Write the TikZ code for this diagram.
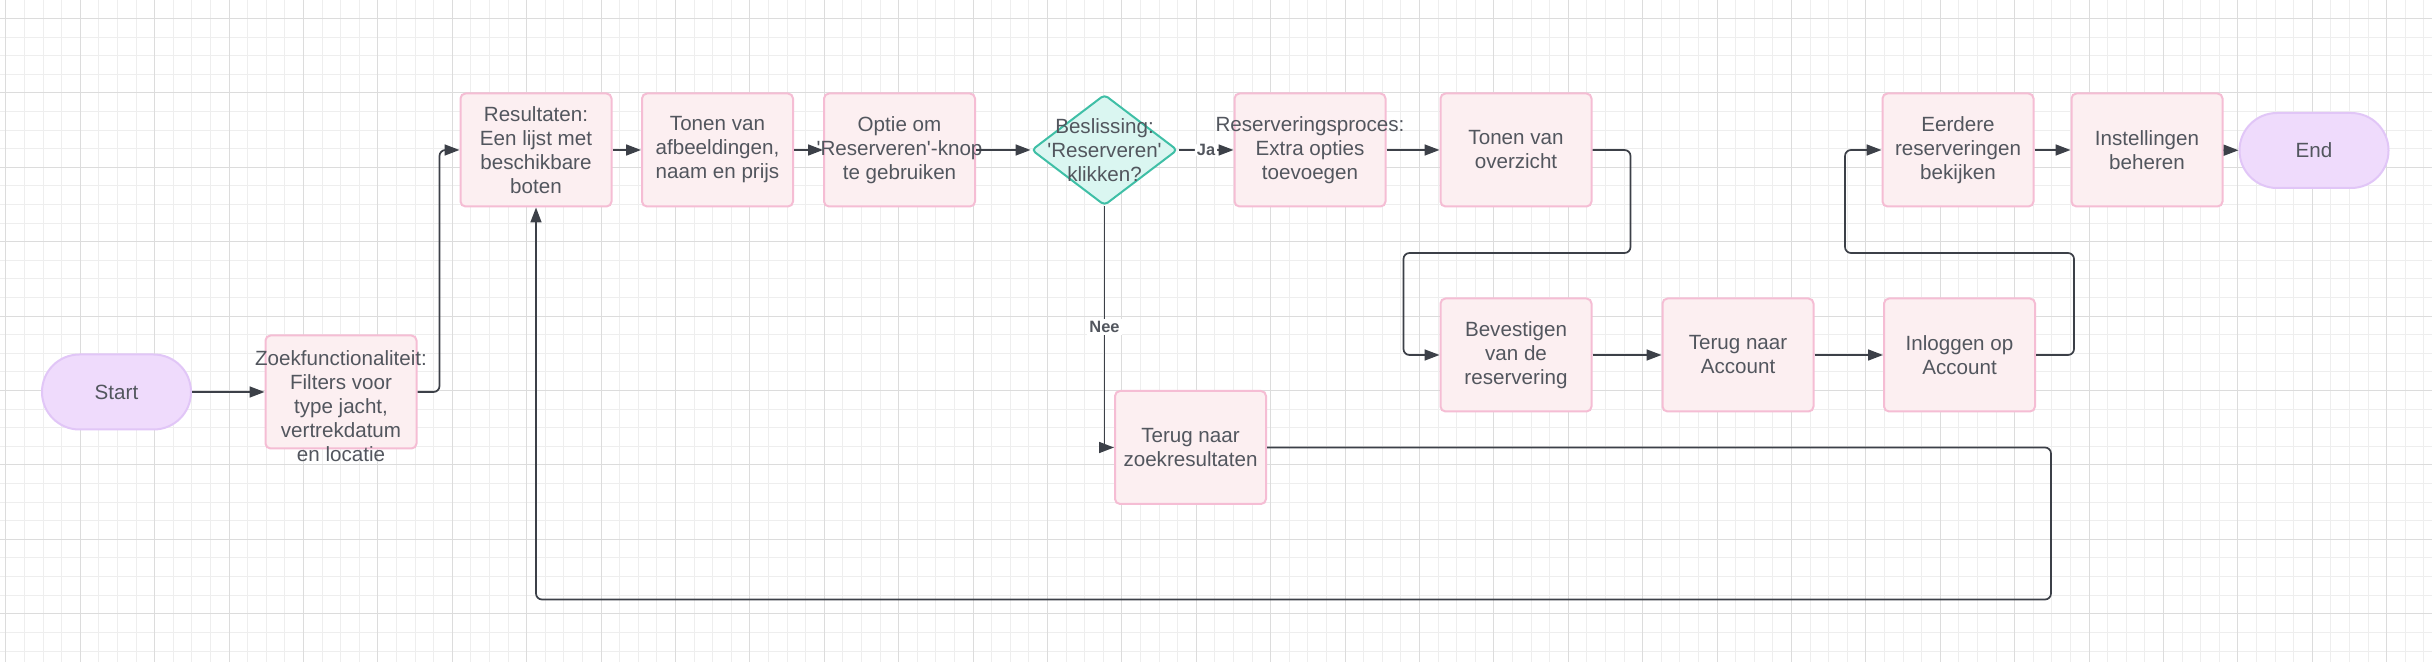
\documentclass[tikz,border=0pt]{standalone}
\usepackage{fontspec}
\setmainfont{Liberation Sans}
\usetikzlibrary{arrows.meta,shapes.geometric}
\usepackage{xcolor}
\definecolor{boxvul}{HTML}{FCEFF1}
\definecolor{boxrand}{HTML}{F5BDD4}
\definecolor{eindvul}{HTML}{EFDBFC}
\definecolor{eindrand}{HTML}{E1C6F7}
\definecolor{keuzevul}{HTML}{DAF6F1}
\definecolor{keuzerand}{HTML}{3FBFA6}
\definecolor{tekst}{HTML}{52565E}
\definecolor{lijn}{HTML}{3C4048}
\definecolor{rasterlicht}{HTML}{EEEEEE}
\definecolor{rasterdonker}{HTML}{DCDCDC}
\tikzset{
  fijnraster/.style={draw=rasterlicht, line width=0.5pt},
  grofraster/.style={draw=rasterdonker, line width=0.5pt},
  stapbox/.style={draw=boxrand, fill=boxvul, line width=1pt, rounded corners=2.5pt,
    minimum width=75.5pt, minimum height=56.5pt, inner sep=0pt},
  staptext/.style={align=center, text=tekst, font=\fontsize{10.3}{12}\selectfont, inner sep=0pt},
  eindpunt/.style={draw=eindrand, fill=eindvul, line width=1pt, rounded corners=18.7pt,
    minimum width=74.5pt, minimum height=37.5pt, inner sep=0pt,
    text=tekst, font=\fontsize{10.3}{12}\selectfont},
  keuze/.style={diamond, draw=keuzerand, fill=keuzevul, line width=1pt, rounded corners=2pt,
    minimum width=73pt, minimum height=55.5pt, inner sep=0pt},
  verbind/.style={draw=lijn, line width=0.85pt, rounded corners=3pt,
    -{Triangle[length=7.5pt,width=5.5pt]}},
  keuzelabel/.style={font=\bfseries\fontsize{8.2}{9}\selectfont, text=tekst, fill=white, inner sep=1pt}
}
\newcommand{\stap}[5][]{%
  \node[stapbox] (#2) at (#3,#4) {};
  \node[staptext,#1] (#2-t) at (#2.center) {#5};
}

\begin{document}
\begin{tikzpicture}[x=0.5pt, y=-0.5pt]
  \useasboundingbox (0,0) rectangle (2432,662);
  \fill[white] (0,0) rectangle (2432,662);
  \foreach \k in {0,...,130}
    \draw[fijnraster] ({5.8+18.6*\k},0) -- ({5.8+18.6*\k},662);
  \foreach \k in {0,...,35}
    \draw[fijnraster] (0,{18.6*\k}) -- (2432,{18.6*\k});
  \foreach \k in {0,4,...,128}
    \draw[grofraster] ({5.8+18.6*\k},0) -- ({5.8+18.6*\k},662);
  \foreach \k in {1,5,...,33}
    \draw[grofraster] (0,{18.6*\k}) -- (2432,{18.6*\k});

  \node[eindpunt] (start) at (116.5,392) {Start};
  \stap[yshift=-7pt]{zoek}{341}{392}{Zoekfunctionaliteit:\\Filters voor\\type jacht,\\vertrekdatum\\en locatie}
  \stap{res}{536}{150}{Resultaten:\\Een lijst met\\beschikbare\\boten}
  \stap{tonen}{717.5}{150}{Tonen van\\afbeeldingen,\\naam en prijs}
  \stap{optie}{899.5}{150}{Optie om\\\textquotesingle Reserveren\textquotesingle-knop\\te gebruiken}
  \node[keuze] (besl) at (1104.5,150) {};
  \node[staptext] (besl-t) at (besl.center) {Beslissing:\\\textquotesingle Reserveren\textquotesingle\\klikken?};
  \stap{resproc}{1310}{150}{Reserveringsproces:\\Extra opties\\toevoegen}
  \stap{overz}{1516}{150}{Tonen van\\overzicht}
  \stap{bev}{1516}{355}{Bevestigen\\van de\\reservering}
  \stap{terugacc}{1738}{355}{Terug naar\\Account}
  \stap{inlog}{1959.5}{355}{Inloggen op\\Account}
  \stap{eerd}{1958}{150}{Eerdere\\reserveringen\\bekijken}
  \stap{inst}{2147}{150}{Instellingen\\beheren}
  \node[eindpunt] (einde) at (2314,150.5) {End};
  \stap{zoekres}{1190.5}{447.5}{Terug naar\\zoekresultaten}

  \draw[verbind] (start) -- (zoek);
  \draw[verbind] (zoek.east) -- ++(22,0) |- (res.west);
  \draw[verbind] (res) -- (tonen);
  \draw[verbind] (tonen) -- (optie);
  \draw[verbind] (optie) -- (besl);
  \draw[verbind] (besl) -- node[keuzelabel] {Ja} (resproc);
  \draw[verbind] (resproc) -- (overz);
  \draw[verbind] (overz.east) -- ++(38,0) -- ++(0,103) -- ++(-227,0) |- (bev.west);
  \draw[verbind] (bev) -- (terugacc);
  \draw[verbind] (terugacc) -- (inlog);
  \draw[verbind] (inlog.east) -- ++(38,0) -- ++(0,-102) -- ++(-229,0) |- (eerd.west);
  \draw[verbind] (eerd) -- (inst);
  \draw[verbind] (inst) -- (einde);
  \draw[verbind,sharp corners] (besl.south) |- node[keuzelabel,pos=0.25] {Nee} (zoekres.west);
  \draw[verbind] (zoekres.east) -- ++(784,0) -- ++(0,152) -| (res.south);
\end{tikzpicture}
\end{document}
